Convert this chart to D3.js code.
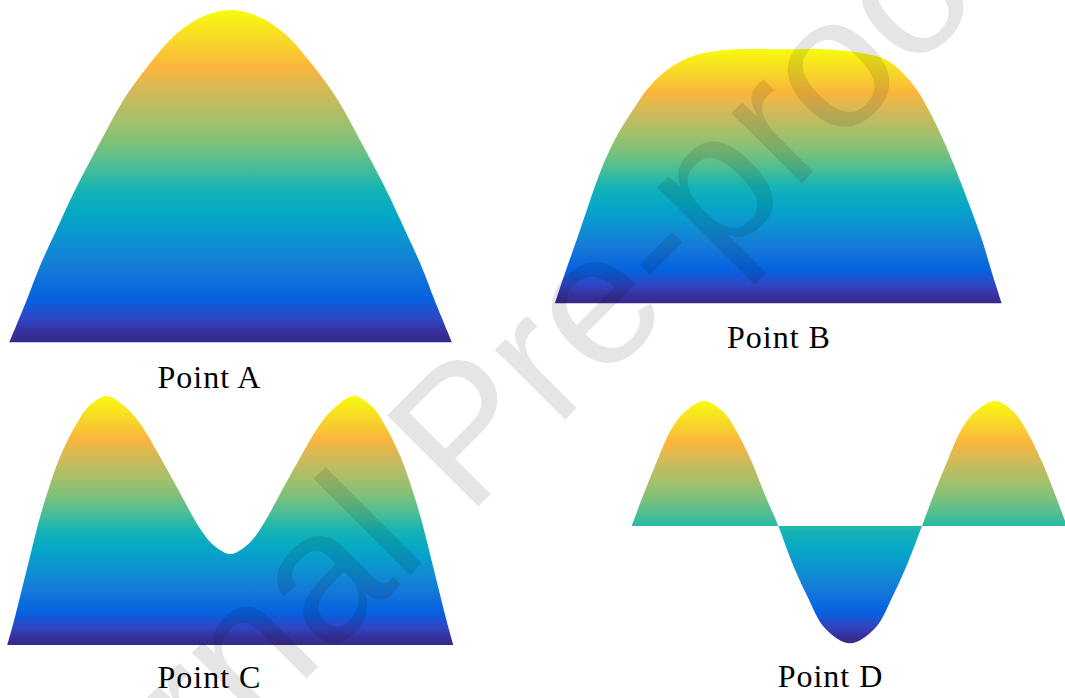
<!DOCTYPE html>
<html>
<head>
<meta charset="utf-8">
<script src="https://cdn.jsdelivr.net/npm/d3@7"></script>
<style>
  html, body { margin: 0; padding: 0; background: #fff; }
  svg { display: block; }
</style>
</head>
<body>
<svg id="chart" width="1065" height="698"></svg>
<script>
// ---------- data (normalised position along span, normalised amplitude) ----------
const labels = ["Point A", "Point B", "Point C", "Point D"];

const posA = [0, .039, .069, .103, .137, .175, .216, .257, .311, .379, .44, .5, .56, .621, .689, .743, .784, .825, .863, .897, .931, .961, 1];
const ampA = [0, .126, .229, .328, .427, .527, .629, .728, .828, .930, .982, 1, .982, .930, .828, .728, .629, .527, .427, .328, .229, .126, 0];

const posB = [0, .0224, .0486, .0739, .1007, .1343, .1791, .205, .2417, .2865, .3313, .4074, .5, .6, .6895, .7432, .779, .8104, .8328, .8686, .8999, .929, .9559, .9783, 1];
const ampB = [0, .119, .250, .381, .514, .646, .774, .840, .906, .957, .984, 1, 1, 1, .984, .957, .906, .840, .774, .646, .514, .381, .250, .119, 0];

const posC = [0, .0135, .0323, .0509, .0695, .0919, .1182, .1556, .1816, .2229, .2639, .2975, .3424, .3834, .4247, .4507, .4769, .5, .5231, .5493, .5753, .6166, .6576, .7025, .7361, .7771, .8184, .8444, .8818, .9081, .9305, .9491, .9677, .9865, 1];
const ampC = [0, .087, .221, .355, .489, .623, .756, .890, .957, 1, .957, .890, .756, .623, .489, .422, .382, .365, .382, .422, .489, .623, .756, .890, .957, 1, .957, .890, .756, .623, .489, .355, .221, .087, 0];

const posD = [0, .0267, .0576, .0921, .1227, .1665, .2109, .2379, .2763, .3069, .3376, .3684, .4029, .4451, .5026, .5601, .6023, .6368, .6684, .6951, .726, .7605, .7911, .8365, .8793, .9063, .9447, .9753, 1];
const ampD = [0, .248, .514, .78, .914, 1, .914, .78, .514, .248, 0, -.286, -.552, -.818, -.938, -.818, -.552, -.286, 0, .248, .514, .78, .914, 1, .914, .78, .514, .248, .02];

const watermark = "Journal Pre-proof";

// parula-like colormap
const cmapStops  = [0, 0.03, 0.07, 0.13, 0.22, 0.32, 0.39, 0.46, 0.52, 0.60, 0.67, 0.75, 0.83, 0.90, 1];
const cmapColors = ["#352a87","#37309b","#2f45c3","#0562e0","#1579d8","#0b96cf","#06a8c6","#16b3b5","#44bd98","#7fc17a","#a5c06a","#d0ba5a","#fbb63c","#f7d42a","#f9fb0e"];

// ---------- layout ----------
const panels = [
  { pos: posA, amp: ampA, x: [9.3, 452],    y0: 342.3, y1: 10,    label: [209.5, 388] },
  { pos: posB, amp: ampB, x: [555, 1001.7], y0: 303.3, y1: 49.3,  label: [779, 348] },
  { pos: posC, amp: ampC, x: [7.3, 453.3],  y0: 645,   y1: 396,   label: [209.5, 688] },
  { pos: posD, amp: ampD, x: [631.7, 1066], y0: 526,   y1: 401,   label: [830.5, 687] }
];

const svg = d3.select("#chart");
const defs = svg.append("defs");

panels.forEach((p, i) => {
  const grad = defs.append("linearGradient")
    .attr("id", "parula" + i)
    .attr("x1", 0).attr("y1", 1).attr("x2", 0).attr("y2", 0);
  grad.selectAll("stop").data(cmapStops).enter().append("stop")
    .attr("offset", d => d)
    .attr("stop-color", (d, k) => cmapColors[k]);

  const xs = d3.scaleLinear().domain([0, 1]).range(p.x);
  const ys = d3.scaleLinear().domain([0, 1]).range([p.y0, p.y1]);
  const pts = p.pos.map((v, k) => [v, p.amp[k]]);

  const area = d3.area()
    .x(d => xs(d[0]))
    .y0(ys(0))
    .y1(d => ys(d[1]))
    .curve(d3.curveCatmullRom.alpha(0.5));

  svg.append("path")
    .datum(pts)
    .attr("d", area)
    .attr("fill", `url(#parula${i})`);

  svg.append("text")
    .attr("x", p.label[0])
    .attr("y", p.label[1])
    .attr("text-anchor", "middle")
    .attr("font-family", "'Liberation Serif', 'DejaVu Serif', serif")
    .attr("font-size", 32)
    .attr("letter-spacing", 1)
    .attr("fill", "#000")
    .text(labels[i]);
});

// watermark
svg.append("text")
  .attr("transform", "translate(508,477) rotate(-45)")
  .attr("text-anchor", "middle")
  .attr("font-family", "'Liberation Sans', Arial, sans-serif")
  .attr("font-size", 188)
  .attr("fill", "#000")
  .attr("fill-opacity", 0.1)
  .text(watermark);
</script>
</body>
</html>
